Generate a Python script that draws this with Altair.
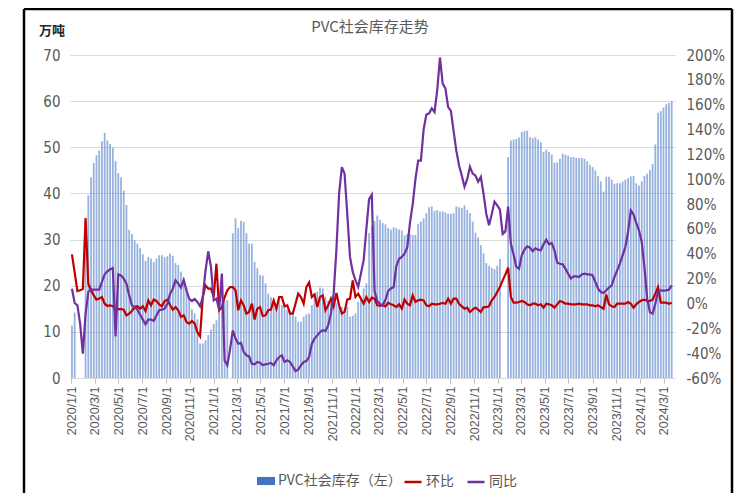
import altair as alt
import pandas as pd

# ---- data (weekly, first week 2020-01-03) ----
inventory = [
    11.4, 14.2, None, None, None, 34.0, 39.6, 43.5, 46.6, 48.3,
    49.3, 51.3, 53.1, 51.5, 50.7, 49.9, 47.0, 44.4, 43.5, 40.6,
    37.5, 32.1, 31.2, 29.8, 29.1, 28.1, 26.8, 25.4, 26.2, 25.9,
    25.1, 25.9, 26.6, 26.6, 26.2, 26.4, 27.0, 26.5, 24.9, 24.5,
    23.0, 21.2, 19.6, 17.4, 14.9, 14.0, 12.7, 7.5, 7.5, 8.2,
    9.3, 10.5, 11.7, 12.5, 14.5, 15.5, 16.5, 16.9, None, 31.4,
    34.6, 32.5, 34.1, 33.8, 31.4, 29.1, 29.1, 25.2, 23.8, 22.3,
    22.2, 20.5, 18.3, 17.5, 16.4, 15.8, 17.5, 15.8, 16.0, 14.7,
    14.6, 14.2, 13.3, 12.2, 12.2, 13.3, 13.8, 14.0, 15.8, 17.5,
    18.7, 19.6, 19.4, 17.6, 16.7, 16.4, 16.5, 16.2, 15.8, 15.4,
    15.1, 15.4, 13.3, 13.5, 14.0, 16.5, 17.5, 19.4, 20.5, 31.4,
    33.0, 34.0, 35.2, 34.3, 33.6, 33.3, 32.5, 32.2, 32.7, 32.5,
    32.2, 32.0, 30.9, 31.2, 31.2, 31.0, 31.0, 33.4, 33.9, 34.6,
    35.7, 37.0, 37.2, 36.2, 36.4, 36.1, 36.1, 35.9, 35.6, 35.6,
    35.7, 37.2, 37.0, 36.8, 37.4, 36.4, 35.7, 33.9, 31.5, 30.5,
    28.8, 27.0, 24.9, 24.3, 23.9, 23.6, 24.3, 25.8, None, None,
    47.9, 51.5, 51.7, 51.8, 52.1, 53.3, 53.5, 53.6, 52.2, 52.0,
    52.2, 51.7, 51.1, 49.0, 49.5, 49.0, 48.4, 46.7, 46.7, 47.5,
    48.6, 48.4, 48.2, 47.9, 47.9, 47.7, 47.7, 47.7, 47.5, 47.0,
    46.2, 45.7, 45.0, 43.8, 42.6, 40.4, 43.6, 43.6, 43.0, 42.1,
    42.2, 42.2, 42.6, 43.0, 43.3, 43.7, 43.8, 42.2, 41.7, 42.6,
    43.8, 44.3, 45.1, 46.4, 50.6, 57.5, 57.8, 58.6, 59.3, 59.6,
    60.0,
]

mom = [
    39.5, 25.0, 10.0, 10.6, 11.6, 68.8, 15.9, 10.6, 6.5, 3.1,
    3.9, 5.2, -0.2, -2.0, -1.5, -2.3, -4.5, -4.5, -4.5, -5.0,
    -9.6, -8.2, -6.1, -2.9, -2.3, -4.2, -2.3, -6.1, 2.5, -1.5,
    3.1, 2.0, -0.7, -2.3, 2.0, 3.1, -1.2, -5.0, -2.9, -5.5,
    -10.9, -9.6, -14.9, -16.3, -14.1, -16.0, -23.0, -26.5, 5.2, 14.6,
    11.9, 11.9, 5.2, 32.0, -5.5, -3.0, 5.0, 10.6, 13.2, 13.2,
    10.6, -5.5, 2.5, -1.5, -8.2, -6.8, -0.2, -12.9, -4.2, -2.9,
    -10.1, -9.6, -5.5, -5.0, 2.5, -4.2, 5.2, 5.2, -2.3, -1.5,
    -8.2, -8.2, -0.2, 7.9, 5.2, -0.2, 13.2, 17.0, 5.2, 7.3,
    -2.9, 5.2, 6.5, -5.5, -1.5, 3.9, -2.3, 8.4, -1.5, -8.2,
    -6.8, 3.1, 3.9, 18.6, 5.2, 7.9, 3.9, -0.2, 5.2, 1.2,
    4.7, 3.9, -1.5, -1.8, -1.5, -2.3, 0.6, -0.7, -1.5, -2.9,
    -0.7, -4.2, 3.1, -0.2, -1.5, 6.5, 1.2, 2.5, 3.1, 2.5,
    -1.5, -2.3, -0.2, -0.7, -0.7, -0.2, 0.4, -0.2, 3.9, -0.2,
    3.9, 3.9, -0.2, -2.3, -4.2, -3.4, -6.9, -5.0, -3.4, -5.0,
    -6.9, -2.9, -2.9, -2.3, 2.5, 5.2, 9.2, 13.2, 18.6, 23.4,
    28.8, 5.2, 0.6, 0.6, 1.2, 2.0, 1.2, -0.7, -1.5, -0.2,
    -0.2, -1.5, -0.7, -3.4, -0.2, -0.7, -1.5, -3.4, -0.7, 2.0,
    1.2, -0.2, -0.2, -0.7, -0.7, -0.7, -0.2, -0.7, -0.7, -0.7,
    -1.5, -1.5, -2.3, -1.5, -2.9, -4.2, 7.1, -0.7, -2.3, -2.9,
    -0.2, -0.2, -0.2, -0.2, 1.2, -0.2, -3.4, -0.7, 1.2, 2.5,
    3.1, 2.0, 2.0, 3.1, 7.9, 13.2, 0.6, 0.6, 0.6, -0.2,
    0.6,
]

yoy = [
    11.9, 0.4, -1.5, -16.3, -40.4, -8.2, 9.2, 11.1, 11.1, 11.1,
    11.1, 17.3, 23.4, 25.9, 27.5, 28.5, -26.5, 23.4, 22.6, 20.0,
    15.9, 6.5, -1.5, -2.9, -5.0, -9.0, -13.0, -16.8, -13.0, -13.0,
    -14.1, -9.6, -5.5, -5.0, -4.2, -0.2, 7.9, 11.9, 18.6, 15.9,
    12.7, 19.1, 10.6, 3.9, 2.0, 3.6, 1.2, -2.3, 5.2, 26.7,
    42.0, 29.3, 2.5, 4.0, -5.0, 24.0, -45.8, -49.8, -37.0, -21.6,
    -28.3, -32.4, -31.8, -39.1, -41.8, -42.6, -48.5, -49.0, -47.1, -47.7,
    -49.8, -49.0, -48.5, -47.9, -49.8, -45.8, -43.1, -41.8, -47.1, -45.8,
    -47.1, -50.6, -54.4, -53.3, -49.8, -47.1, -46.3, -43.1, -32.4, -28.3,
    -25.7, -23.0, -21.6, -22.2, -17.6, -8.2, 7.9, 42.8, 88.4, 109.8,
    104.5, 72.0, 37.5, 25.4, 18.7, 13.3, 24.0, 34.8, 60.0, 84.0,
    87.5, 10.0, 2.0, -0.5, -1.5, 3.0, 10.0, 12.0, 13.0, 30.0,
    36.0, 37.5, 40.0, 45.0, 65.0, 80.0, 100.0, 115.0, 115.0, 140.0,
    152.0, 153.0, 157.0, 154.0, 172.0, 198.0, 177.0, 173.0, 158.0, 155.0,
    139.0, 123.0, 111.0, 103.0, 94.0, 100.0, 110.0, 104.5, 103.0, 98.0,
    102.0, 88.0, 72.0, 63.0, 72.0, 82.0, 79.0, 75.5, 56.0, 58.0,
    78.0, 48.0, 39.5, 29.5, 28.0, 38.7, 43.3, 46.0, 44.9, 42.0,
    44.4, 43.3, 42.8, 47.6, 51.3, 47.6, 48.7, 42.8, 32.8, 32.0,
    31.5, 28.0, 24.0, 20.0, 21.8, 21.8, 21.3, 23.4, 24.0, 23.4,
    23.4, 22.6, 17.3, 11.9, 9.2, 8.4, 10.6, 12.7, 14.6, 21.3,
    26.7, 32.0, 38.7, 45.4, 57.5, 75.0, 71.7, 64.8, 58.9, 49.5,
    29.3, 3.9, -6.9, -8.2, -0.2, 10.0, 10.6, 10.3, 10.6, 11.1,
    14.6,
]

weeks = pd.date_range("2020-01-03", periods=len(inventory), freq="7D").strftime("%Y-%m-%d").tolist()

tick_months = [(y, m) for y in range(2020, 2025) for m in (1, 3, 5, 7, 9, 11) if (y, m) <= (2024, 3)]
left_ticks = list(range(0, 71, 10))
right_ticks = list(range(-60, 201, 20))

S_INV = "PVC社会库存（左）"
S_MOM = "环比"
S_YOY = "同比"

inv_df = pd.DataFrame({"date": weeks, "value": inventory, "series": S_INV}).dropna(subset=["value"])
mom_df = pd.DataFrame({"date": weeks, "value": mom, "series": S_MOM})
yoy_df = pd.DataFrame({"date": weeks, "value": yoy, "series": S_YOY})

GRAY = "#595959"
NUM_FONT = "Liberation Sans Narrow, DejaVu Sans Condensed, sans-serif"
CJK_FONT = "Noto Sans CJK SC, sans-serif"

tick_dates = [alt.DateTime(year=y, month=m, date=1, utc=True) for (y, m) in tick_months]

x_enc = alt.X(
    "date:T", title=None,
    scale=alt.Scale(type="utc", padding=0,
                    domain=[alt.DateTime(year=2019, month=12, date=29, utc=True),
                            alt.DateTime(year=2024, month=3, date=30, hours=12, utc=True)]),
    axis=alt.Axis(values=tick_dates, labelExpr="utcFormat(datum.value, '%Y/%-m/%-d')",
                  labelAngle=-90, labelFont="Liberation Sans", labelFontSize=12.5, labelColor=GRAY,
                  labelPadding=3, ticks=True, tickSize=5, tickColor="#bfbfbf", domain=True,
                  domainColor="#d9d9d9", grid=False, labelOverlap=False, labelFlush=False),
)

bar_layer = alt.Chart(inv_df).mark_bar(size=1.8, opacity=0.55).encode(
    x=x_enc,
    y=alt.Y("value:Q", title=None, scale=alt.Scale(domain=[0, 70], nice=False),
            axis=alt.Axis(values=left_ticks, orient="left", labelFont=NUM_FONT, labelFontSize=15,
                          labelColor=GRAY, labelPadding=10, domain=False, ticks=False, grid=True,
                          gridColor="#d9d9d9", gridWidth=1)),
    fill=alt.Fill("series:N", title=None, scale=alt.Scale(domain=[S_INV], range=["#4472C4"]),
                  legend=alt.Legend(orient="none", legendX=187, legendY=417,
                                    symbolType="M-1,-0.45H1V0.45H-1Z", symbolSize=324, symbolOpacity=1,
                                    symbolStrokeWidth=0, labelFont=CJK_FONT, labelFontSize=14,
                                    labelColor=GRAY, labelOffset=3, padding=0)),
)

stroke_scale = alt.Scale(domain=[S_MOM, S_YOY], range=["#C00000", "#7030A0"])
line_legend = alt.Legend(orient="none", legendX=333, legendY=417, direction="horizontal",
                         symbolType="stroke", symbolSize=289, symbolStrokeWidth=2.5,
                         labelFont=CJK_FONT, labelFontSize=14, labelColor=GRAY, labelOffset=3,
                         columnPadding=8, padding=0, title=None)
right_scale = alt.Scale(domain=[-60, 200], nice=False, zero=False)

mom_layer = alt.Chart(mom_df).mark_line(strokeWidth=2.2).encode(
    x=x_enc,
    y=alt.Y("value:Q", title=None, scale=right_scale,
            axis=alt.Axis(orient="right", values=right_ticks, labelExpr="datum.value + '%'",
                          labelFont=NUM_FONT, labelFontSize=15, labelColor=GRAY, labelPadding=11,
                          domain=False, ticks=False, grid=False)),
    stroke=alt.Stroke("series:N", title=None, scale=stroke_scale, legend=line_legend),
)

yoy_layer = alt.Chart(yoy_df).mark_line(strokeWidth=2.2).encode(
    x=x_enc,
    y=alt.Y("value:Q", title=None, scale=right_scale, axis=None),
    stroke=alt.Stroke("series:N", title=None, scale=stroke_scale, legend=line_legend),
)

deco_df = pd.DataFrame({"k": [0]})
title_layer = alt.Chart(deco_df).mark_text(
    text="PVC社会库存走势", font=CJK_FONT, fontSize=15, color=GRAY, align="center", baseline="middle"
).encode(x=alt.value(300), y=alt.value(-28))
unit_layer = alt.Chart(deco_df).mark_text(
    text="万吨", font=CJK_FONT, fontSize=13, fontWeight="bold", color="#262626", align="center", baseline="middle"
).encode(x=alt.value(-18), y=alt.value(-24))
frame_left = alt.Chart(deco_df).mark_rule(color="black", strokeWidth=2.5).encode(
    x=alt.value(-46), y=alt.value(-46), y2=alt.value(440))
frame_right = alt.Chart(deco_df).mark_rule(color="black", strokeWidth=2.5).encode(
    x=alt.value(662), y=alt.value(-46), y2=alt.value(440))
frame_top = alt.Chart(deco_df).mark_rule(color="black", strokeWidth=2.5).encode(
    x=alt.value(-46), x2=alt.value(662), y=alt.value(-46))

chart = alt.layer(
    bar_layer, mom_layer, yoy_layer, title_layer, unit_layer, frame_left, frame_right, frame_top
).resolve_scale(y="independent").properties(
    width=605, height=323,
    autosize=alt.AutoSizeParams(type="none"),
    padding={"left": 62, "top": 47, "right": 59, "bottom": 115},
    background="white",
).configure_view(stroke=None)

chart.save("out.html", embed_options={"renderer": "svg", "actions": False})
